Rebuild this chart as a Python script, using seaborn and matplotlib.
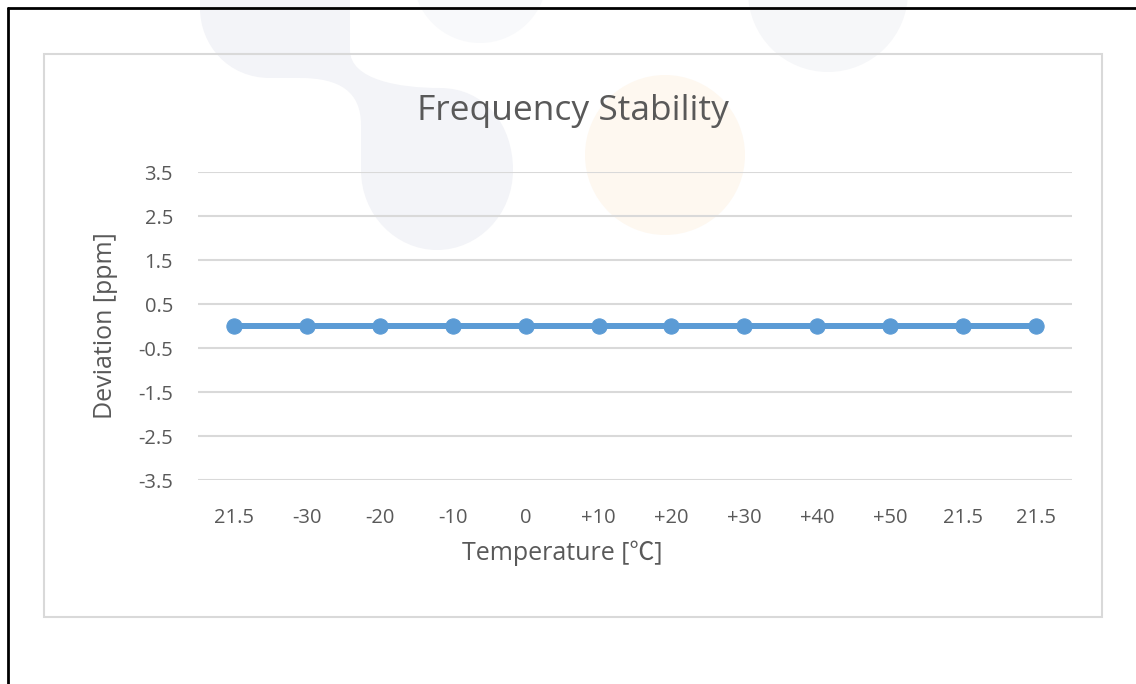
# frequency stability chart

import numpy as np
import pandas as pd
import matplotlib.pyplot as plt
import seaborn as sns
from matplotlib.patches import Circle, Rectangle, PathPatch
from matplotlib.path import Path
from matplotlib.lines import Line2D
from matplotlib.transforms import IdentityTransform


TEMPS = ['21.5', '-30', '-20', '-10', '0', '+10', '+20', '+30',
         '+40', '+50', '21.5', '21.5']
DEVIATION = [0, 0, 0, 0, 0, 0, 0, 0, 0, 0, 0, 0]
YTICKS = [-3.5, -2.5, -1.5, -0.5, 0.5, 1.5, 2.5, 3.5]

W, H = 1136, 684
TEXT = '#595959'
GRID = '#D9D9D9'
BLUE = '#5B9BD5'


def px(x, y):
    """pixel coords (top-left origin) -> figure fraction"""
    return x / W, 1 - y / H


sns.set_theme(style='white')
plt.rcParams['font.family'] = ['Open Sans', 'Noto Sans CJK JP', 'DejaVu Sans']

fig = plt.figure(figsize=(W / 100, H / 100), dpi=100)
fig.patch.set_facecolor('white')

# faded watermark shapes, drawn in pixels
ident = IdentityTransform()
wm = '#F3F4F8'


def add_circle(cx, cy, r, c):
    fig.patches.append(Circle((cx, H - cy), r, transform=ident,
                              facecolor=c, edgecolor='none', zorder=-10))


# outline of the grey blob (top-left origin), lines and cubic curves
M, L, C = Path.MOVETO, Path.LINETO, Path.CURVE4
blob = [
    (M, (200, -2)), (L, (350, -2)), (L, (350, 50)),
    (C, (350, 80)), (C, (400, 88)), (C, (440, 88)),
    (C, (485, 88)), (C, (513, 125)), (C, (513, 170)),
    (C, (513, 215)), (C, (478, 250)), (C, (437, 250)),
    (C, (396, 250)), (C, (361, 215)), (C, (361, 170)),
    (L, (361, 125)),
    (C, (361, 92)), (C, (340, 78)), (C, (300, 78)),
    (L, (270, 78)),
    (C, (228, 78)), (C, (200, 45)), (C, (200, 8)),
    (Path.CLOSEPOLY, (200, -2)),
]
codes = [c for c, _ in blob]
verts = [(x, H - y) for _, (x, y) in blob]
fig.patches.append(PathPatch(Path(verts, codes), transform=ident,
                             facecolor=wm, edgecolor='none', zorder=-10))

add_circle(480, -24, 67, '#F8F9FB')
add_circle(828, -8, 80, '#F6F7F9')
add_circle(665, 155, 80, '#FEF8F0')

# chart area frame and outer black border
fig.patches.append(Rectangle(px(44, 617), (1102 - 44) / W, (617 - 54) / H,
                             transform=fig.transFigure, fill=False,
                             edgecolor=GRID, linewidth=1.5, zorder=-5))
fig.lines.append(Line2D([8 / W, 1], [1 - 8 / H, 1 - 8 / H],
                        transform=fig.transFigure, color='black', linewidth=2))
fig.lines.append(Line2D([8 / W, 8 / W], [0, 1 - 8 / H],
                        transform=fig.transFigure, color='black', linewidth=2))

ax = fig.add_axes([198 / W, 1 - 480 / H, (1072 - 198) / W, (480 - 172) / H])
ax.set_facecolor('none')

df = pd.DataFrame({'pos': np.arange(len(TEMPS)), 'deviation': DEVIATION})
sns.lineplot(data=df, x='pos', y='deviation', ax=ax, color=BLUE,
             linewidth=4.3, marker='o', markersize=11,
             markeredgecolor=BLUE, zorder=3)

ax.set_xlim(-0.5, len(TEMPS) - 0.5)
ax.set_ylim(-3.5, 3.5)
ax.set_yticks(YTICKS)
ax.set_yticklabels([f'{v:.1f}' for v in YTICKS])
ax.set_xticks(df['pos'])
ax.set_xticklabels(TEMPS)
ax.grid(axis='y', color=GRID, linewidth=1.5)
ax.grid(axis='x', visible=False)
ax.tick_params(axis='both', length=0, labelsize=14.5, labelcolor=TEXT)
ax.tick_params(axis='x', pad=20)
ax.tick_params(axis='y', pad=18)
for sp in ax.spines.values():
    sp.set_visible(False)
ax.set_xlabel('')
ax.set_ylabel('')

fig.text(*px(573, 111), 'Frequency Stability', ha='center', va='center',
         fontsize=25.5, color=TEXT)
fig.text(*px(562, 553), 'Temperature [℃]', ha='center', va='center',
         fontsize=18, color=TEXT)
fig.text(*px(105, 326), 'Deviation [ppm]', ha='center', va='center',
         rotation=90, fontsize=18, color=TEXT)

plt.savefig('out.png', dpi=100)
plt.close()
